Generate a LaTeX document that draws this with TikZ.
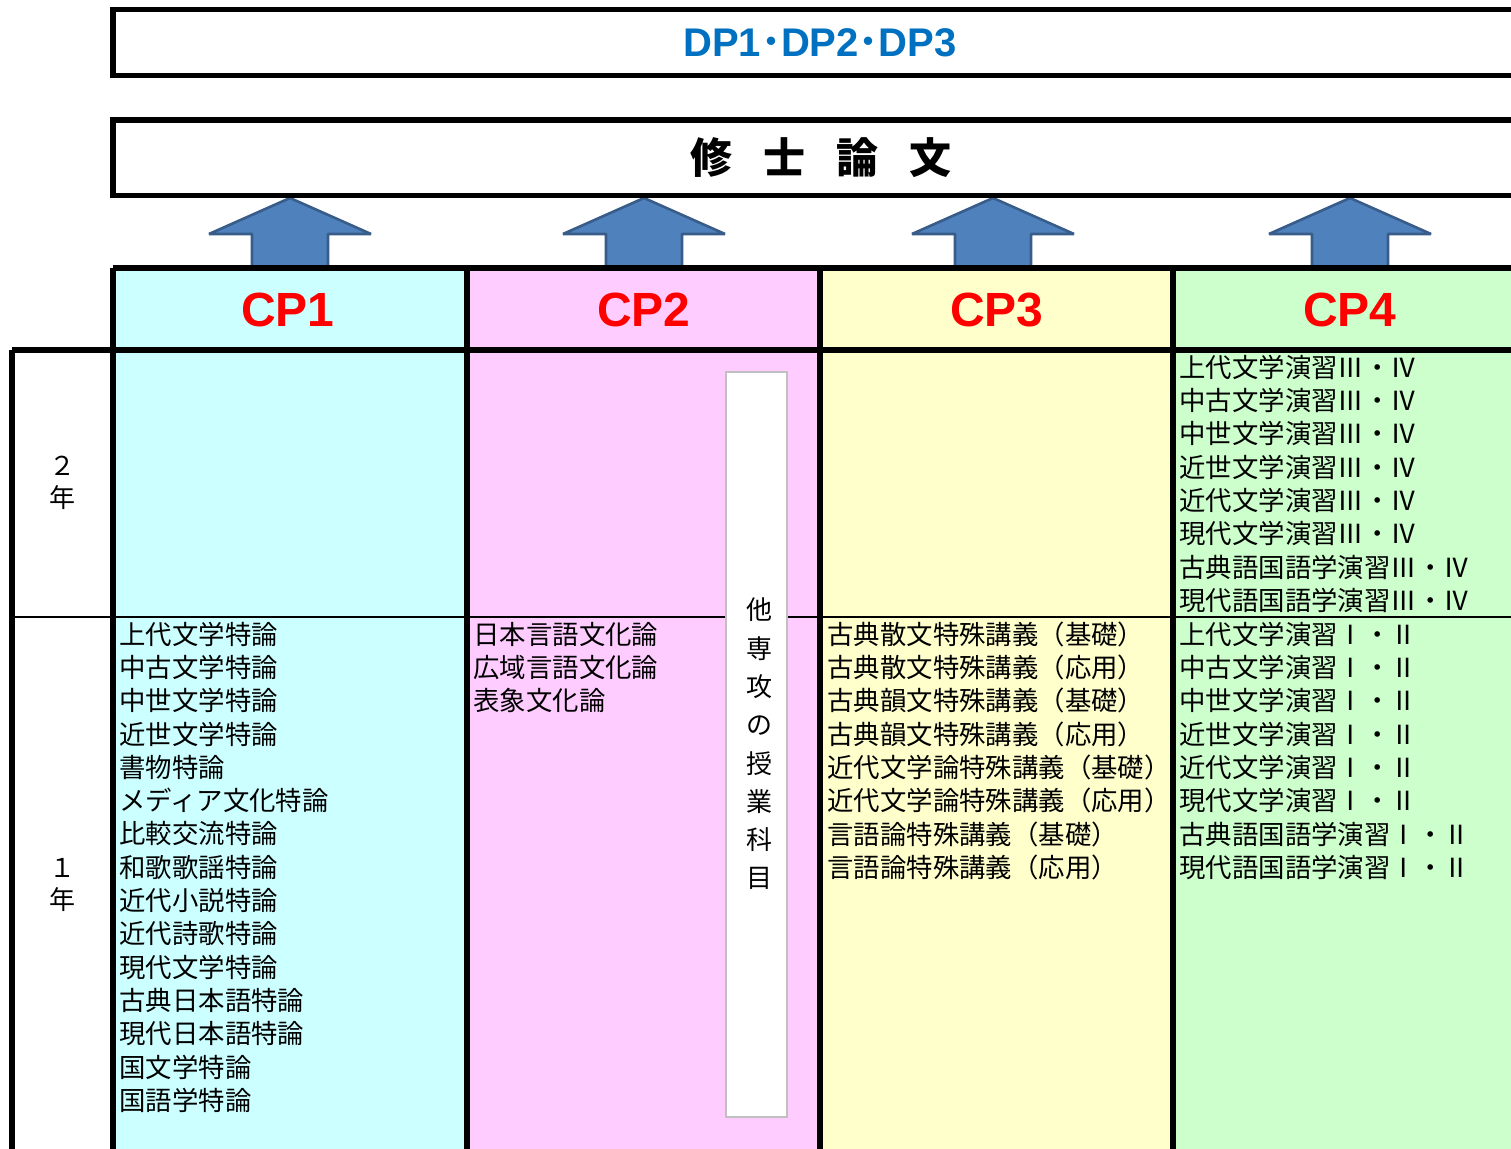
\documentclass[tikz,border=0pt]{standalone}
\usepackage{fontspec}
\setmainfont{Noto Sans CJK JP}
\newfontfamily\cjk{Noto Sans CJK JP}
\newfontfamily\latinsans{Liberation Sans}
\definecolor{cpcyan}{HTML}{CCFFFF}
\definecolor{cppink}{HTML}{FFCCFF}
\definecolor{cpyellow}{HTML}{FFFFCC}
\definecolor{cpgreen}{HTML}{CCFFCC}
\definecolor{dpblue}{HTML}{0070C0}
\definecolor{arrowfill}{HTML}{4F81BD}
\definecolor{arrowedge}{HTML}{385D8A}
\definecolor{boxgray}{HTML}{C0C0C0}
\begin{document}
\begin{tikzpicture}[x=0.5pt,y=-0.5pt,
  heavyline/.style={line width=2.75pt},
  thinline/.style={line width=0.6pt},
  blockarrow/.style={fill=arrowfill,draw=arrowedge,line width=1.3pt,line join=bevel},
  listtext/.style={anchor=west,inner sep=0pt,font=\cjk\fontsize{13.2pt}{16pt}\selectfont,text=black},
  yearlabel/.style={align=center,inner sep=0pt,font=\cjk\fontsize{13pt}{16pt}\selectfont},
  cplabel/.style={inner sep=0pt,text=red,font=\latinsans\bfseries\fontsize{24pt}{28pt}\selectfont},
  topbox/.style={draw,heavyline,fill=white}]
\clip (0,0) rectangle (1511,1149);
% column fills
\fill[cpcyan] (113,268) rectangle (467,1160);
\fill[cppink] (467,268) rectangle (820,1160);
\fill[cpyellow] (820,268) rectangle (1173,1160);
\fill[cpgreen] (1173,268) rectangle (1540,1160);
% thin year divider
\draw[thinline] (12,617) -- (1540,617);
% other-major box
\node[draw=boxgray,line width=0.8pt,fill=white,minimum width=30.5pt,minimum height=372.5pt,inner sep=0pt] (otherbox) at (756.5,744.5) {};
\node[align=center,inner sep=0pt,font=\cjk\fontsize{13pt}{19.15pt}\selectfont] (othertext) at (759,744) {他\\専\\攻\\の\\授\\業\\科\\目};
% block arrows
\foreach \cx in {290,644,993,1350}{
  \draw[blockarrow] (\cx,198) -- ({\cx+81},234) -- ({\cx+38},234) -- ({\cx+38},268)
    -- ({\cx-38},268) -- ({\cx-38},234) -- ({\cx-81},234) -- cycle;
}
% heavy grid lines
\draw[heavyline] (113,268) -- (1540,268);
\draw[heavyline] (12,350) -- (1540,350);
\draw[heavyline] (12,350) -- (12,1160);
\foreach \xx in {113,467,820,1173}{\draw[heavyline] (\xx,268) -- (\xx,1160);}
% top boxes
\draw[topbox] (113,9.5) rectangle (1540,75.5);
\draw[topbox] (113,120) rectangle (1540,195.5);
\node[inner sep=0pt,text=dpblue] (dp) at (820,43)
  {{\latinsans\bfseries\fontsize{20pt}{24pt}\selectfont DP1}{\cjk\bfseries\fontsize{20pt}{24pt}\selectfont ･}{\latinsans\bfseries\fontsize{20pt}{24pt}\selectfont DP2}{\cjk\bfseries\fontsize{20pt}{24pt}\selectfont ･}{\latinsans\bfseries\fontsize{20pt}{24pt}\selectfont DP3}};
\node[inner sep=0pt,font=\cjk\bfseries\fontsize{21pt}{24pt}\selectfont] (thesis) at (821,158)
  {修\hspace{15.5pt}士\hspace{15.5pt}論\hspace{15.5pt}文};
% CP headers
\node[cplabel] (cp1) at (288,310) {CP1};
\node[cplabel] (cp2) at (644,310) {CP2};
\node[cplabel] (cp3) at (997,310) {CP3};
\node[cplabel] (cp4) at (1350,310) {CP4};
% year labels
\node[yearlabel] (y2) at (62,483) {２\\年};
\node[yearlabel] (y1) at (62,885) {１\\年};
% lists
\foreach \t [count=\i] in {上代文学特論,中古文学特論,中世文学特論,近世文学特論,書物特論,メディア文化特論,比較交流特論,和歌歌謡特論,近代小説特論,近代詩歌特論,現代文学特論,古典日本語特論,現代日本語特論,国文学特論,国語学特論}
  \node[listtext] (la\i) at (119,{634+33.33*(\i-1)}) {\t};
\foreach \t [count=\i] in {日本言語文化論,広域言語文化論,表象文化論}
  \node[listtext] (lb\i) at (473,{634+33.33*(\i-1)}) {\t};
\foreach \t [count=\i] in {古典散文特殊講義（基礎）,古典散文特殊講義（応用）,古典韻文特殊講義（基礎）,古典韻文特殊講義（応用）,近代文学論特殊講義（基礎）,近代文学論特殊講義（応用）,言語論特殊講義（基礎）,言語論特殊講義（応用）}
  \node[listtext] (lc\i) at (827,{634+33.33*(\i-1)}) {\t};
\foreach \t [count=\i] in {上代文学演習Ⅲ・Ⅳ,中古文学演習Ⅲ・Ⅳ,中世文学演習Ⅲ・Ⅳ,近世文学演習Ⅲ・Ⅳ,近代文学演習Ⅲ・Ⅳ,現代文学演習Ⅲ・Ⅳ,古典語国語学演習Ⅲ・Ⅳ,現代語国語学演習Ⅲ・Ⅳ}
  \node[listtext] (ld\i) at (1179,{367+33.33*(\i-1)}) {\t};
\foreach \t [count=\i] in {上代文学演習Ⅰ・Ⅱ,中古文学演習Ⅰ・Ⅱ,中世文学演習Ⅰ・Ⅱ,近世文学演習Ⅰ・Ⅱ,近代文学演習Ⅰ・Ⅱ,現代文学演習Ⅰ・Ⅱ,古典語国語学演習Ⅰ・Ⅱ,現代語国語学演習Ⅰ・Ⅱ}
  \node[listtext] (le\i) at (1179,{634+33.33*(\i-1)}) {\t};
\end{tikzpicture}
\end{document}
